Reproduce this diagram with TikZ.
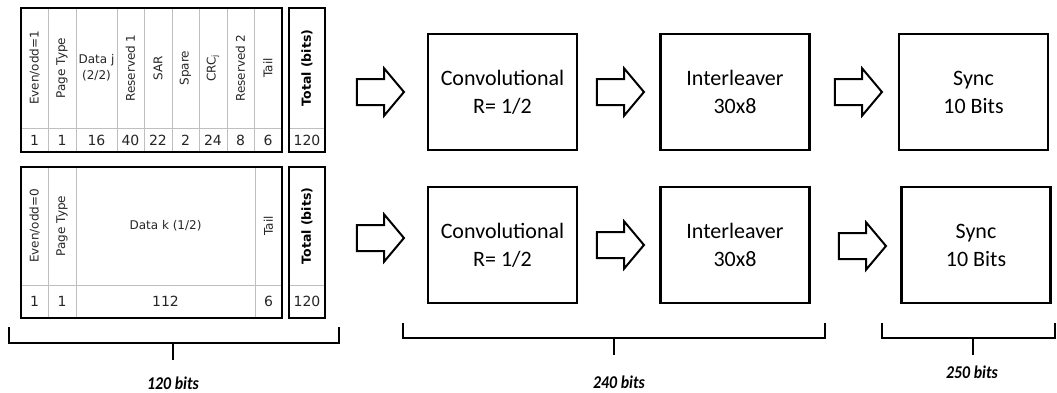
\documentclass[tikz,border=0pt]{standalone}
\usepackage{fontspec}
\setmainfont{Carlito}
\newfontfamily\tabfont{DejaVu Sans}
\usetikzlibrary{shapes.arrows}
\begin{document}
\begin{tikzpicture}[x=1pt,y=-1pt,
  frame/.style={line width=2.5pt},
  grid/.style={line width=0.8pt,gray!50},
  head/.style={font=\tabfont\fontsize{12}{14}\selectfont,text=black!85,inner sep=0pt,rotate=90},
  flat/.style={font=\tabfont\fontsize{12}{16}\selectfont,text=black!85,inner sep=0pt,align=center},
  num/.style={font=\tabfont\fontsize{14}{16}\selectfont,text=black!85,inner sep=0pt},
  total/.style={font=\tabfont\bfseries\fontsize{12.5}{15}\selectfont,inner sep=0pt,rotate=90},
  block/.style={draw,line width=2.5pt,minimum width=149pt,minimum height=116pt,align=center,font=\fontsize{22}{28}\selectfont},
  fat/.style={single arrow,draw,line width=2pt,inner xsep=0pt,inner ysep=12pt,minimum height=47pt,single arrow head extend=10.5pt,single arrow tip angle=100},
  brace/.style={line width=2.5pt},
  bits/.style={font=\bfseries\itshape\fontsize{18}{22}\selectfont,xscale=0.88}]
\useasboundingbox (0,0) rectangle (1057,392);
 \begin{scope}
\draw[grid] (21,128)--(282,128) (48,8)--(48,152) (76,8)--(76,152) (117,8)--(117,152)
  (144,8)--(144,152) (172,8)--(172,152) (199,8)--(199,152) (227,8)--(227,152) (254,8)--(254,152);
\draw[frame] (21,8) rectangle (282,152);
\node[head] (eo1) at (34.5,68) {Even/odd=1};
\node[head] (pt1) at (62,68) {Page Type};
\node[flat] (dj) at (96.5,68) {Data j\\(2/2)};
\node[head] (rs1) at (130.5,68) {Reserved 1};
\node[head] (sar) at (158,68) {SAR};
\node[head] (spa) at (185.5,68) {Spare};
\node[head] (crc) at (213,68) {CRC\textsubscript{j}};
\node[head] (rs2) at (240.5,68) {Reserved 2};
\node[head] (tl1) at (268,68) {Tail};
\node[num] (n11) at (34.5,140) {1};
\node[num] (n12) at (62,140) {1};
\node[num] (n13) at (96.5,140) {16};
\node[num] (n14) at (130.5,140) {40};
\node[num] (n15) at (158,140) {22};
\node[num] (n16) at (185.5,140) {2};
\node[num] (n17) at (213,140) {24};
\node[num] (n18) at (240.5,140) {8};
\node[num] (n19) at (268,140) {6};
\draw[grid] (289,128)--(325,128);
\draw[frame] (289,8) rectangle (325,152);
\node[total] (tt1) at (307,68) {Total (bits)};
\node[num] (tn1) at (307,140) {120};
 \end{scope}
 \begin{scope}
\draw[grid] (21,285)--(282,285) (48,167)--(48,318) (76,167)--(76,318) (255,167)--(255,318);
\draw[frame] (21,167) rectangle (282,318);
\node[head] (eo2) at (34.5,226) {Even/odd=0};
\node[head] (pt2) at (62,226) {Page Type};
\node[flat] (dk) at (165.5,226) {Data k (1/2)};
\node[head] (tl2) at (268.5,226) {Tail};
\node[num] (n21) at (34.5,301.5) {1};
\node[num] (n22) at (62,301.5) {1};
\node[num] (n23) at (165.5,301.5) {112};
\node[num] (n24) at (268.5,301.5) {6};
\draw[grid] (289,285)--(325,285);
\draw[frame] (289,167) rectangle (325,318);
\node[total] (tt2) at (307,226) {Total (bits)};
\node[num] (tn2) at (307,301.5) {120};
 \end{scope}
\node[block] (conv1) at (502.5,92) {Convolutional\\R= 1/2};
\node[block] (int1) at (735,92) {Interleaver\\30x8};
\node[block] (sync1) at (973.5,92) {Sync\\10 Bits};
\node[block] (conv2) at (502.5,245) {Convolutional\\R= 1/2};
\node[block] (int2) at (735,245) {Interleaver\\30x8};
\node[block] (sync2) at (976,245) {Sync\\10 Bits};
\node[fat] (a1) at (375,92) {};
\node[fat] (a2) at (615,92) {};
\node[fat] (a3) at (853,92) {};
\node[fat] (b1) at (375,238) {};
\node[fat] (b2) at (615,245) {};
\node[fat] (b3) at (857,246) {};
\coordinate (s1) at (173,360);
\coordinate (s2) at (614,355);
\coordinate (s3) at (973,355);
\draw[brace] (9,327)--(9,343)--(339,343)--(339,327);
\draw[brace] (173,343)--(s1);
\draw[brace] (403,323)--(403,338)--(825,338)--(825,323);
\draw[brace] (614,338)--(s2);
\draw[brace] (882,323)--(882,338)--(1055,338)--(1055,323);
\draw[brace] (973,338)--(s3);
\node[bits] (l1) at (173,383) {120 bits};
\node[bits] (l2) at (619,382) {240 bits};
\node[bits] (l3) at (972,372) {250 bits};
\end{tikzpicture}
\end{document}
